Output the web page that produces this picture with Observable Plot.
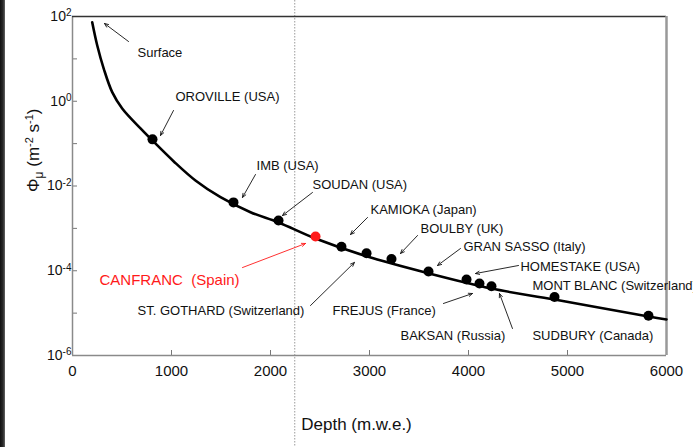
<!DOCTYPE html>
<html>
<head>
<meta charset="utf-8">
<script src="https://cdn.jsdelivr.net/npm/d3@7"></script>
<script src="https://cdn.jsdelivr.net/npm/@observablehq/plot@0.6"></script>
<style>
  html, body { margin: 0; padding: 0; background: #fff; overflow: hidden; }
  #wrap { position: relative; width: 693px; height: 447px; }
  #edge { position: absolute; left: 0; top: 0; width: 5px; height: 447px;
          background: linear-gradient(to right, #111 0%, #2a2a2a 60%, #666 100%); }
  svg { font-family: "Liberation Sans", Arial, sans-serif; }
</style>
</head>
<body>
<div id="wrap"><div id="edge"></div></div>
<script>
// Muon flux curve vs depth
const curveDepth = [199, 250, 316, 401, 502, 687, 821, 1023, 1242, 1495, 1798, 2081, 2455, 2970, 3596, 4232, 4869, 5818, 6000];
const curveFlux  = [73.3, 20.7, 5.83, 1.64, 0.676, 0.229, 0.11, 0.038, 0.0135, 0.00545, 0.00241, 0.00138, 5.75e-4, 2.19e-4, 8.7e-5, 3.8e-5, 2.09e-5, 8.3e-6, 7.1e-6];

// Underground laboratories
const siteName  = ["OROVILLE", "IMB", "SOUDAN", "CANFRANC", "KAMIOKA", "ST. GOTHARD", "BOULBY", "GRAN SASSO", "HOMESTAKE", "FREJUS", "BAKSAN", "MONT BLANC", "SUDBURY"];
const siteDepth = [808, 1626, 2081, 2455, 2717, 2970, 3222, 3596, 3980, 4111, 4232, 4869, 5818];
const siteFlux  = [0.126, 0.0041, 0.00154, 6.4e-4, 3.7e-4, 2.6e-4, 1.9e-4, 9.6e-5, 6.2e-5, 5.0e-5, 4.3e-5, 2.4e-5, 8.7e-6];
const highlight = "CANFRANC";

// Annotation labels (anchor in data units)
const labelText  = ["Surface", "OROVILLE (USA)", "IMB (USA)", "SOUDAN (USA)", "KAMIOKA (Japan)", "BOULBY (UK)", "GRAN SASSO (Italy)", "HOMESTAKE (USA)", "MONT BLANC (Switzerland)", "CANFRANC  (Spain)", "ST. GOTHARD (Switzerland)", "FREJUS (France)", "BAKSAN (Russia)", "SUDBURY (Canada)"];
const labelDepth = [657, 1040, 1859, 2424, 3010, 3515, 3949, 4525, 4646, 273, 657, 2626, 3313, 4646];
const labelFlux  = [14.1, 1.29, 0.0305, 0.0108, 0.00279, 9.9e-4, 3.73e-4, 1.26e-4, 4.49e-5, 5.89e-5, 1.15e-5, 1.15e-5, 2.96e-6, 2.96e-6];

// Annotation arrows (data units)
const arrowLabel     = ["Surface", "OROVILLE", "IMB", "SOUDAN", "KAMIOKA", "BOULBY", "GRAN SASSO", "HOMESTAKE", "CANFRANC", "ST. GOTHARD", "FREJUS", "BAKSAN"];
const arrowFromDepth = [566, 1020, 1848, 2424, 2980, 3485, 3919, 4505, 1717, 2404, 3747, 4444];
const arrowFromFlux  = [25.7, 0.605, 0.01866, 0.00703, 0.00181, 6.79e-4, 3.35e-4, 1.33e-4, 1.19e-4, 1.51e-5, 1.69e-5, 4.34e-6];
const arrowToDepth   = [323, 889, 1717, 2121, 2808, 3313, 3687, 4071, 2354, 2848, 4040, 4313];
const arrowToFlux    = [68.4, 0.1556, 0.00536, 0.00201, 7.16e-4, 2.55e-4, 1.33e-4, 8.6e-5, 4.4e-4, 1.57e-4, 2.9e-5, 2.9e-5];

const refDepth = [2245];
const xTicks = [0, 1000, 2000, 3000, 4000, 5000, 6000];
const yTicks = [1e2, 1e1, 1e0, 1e-1, 1e-2, 1e-3, 1e-4, 1e-5, 1e-6];

const curve  = curveDepth.map((d, i) => ({depth: d, flux: curveFlux[i]}));
const sites  = siteName.map((n, i) => ({name: n, depth: siteDepth[i], flux: siteFlux[i]}));
const labels = labelText.map((t, i) => ({text: t, depth: labelDepth[i], flux: labelFlux[i]}));
const arrows = arrowLabel.map((n, i) => ({name: n, x1: arrowFromDepth[i], y1: arrowFromFlux[i], x2: arrowToDepth[i], y2: arrowToFlux[i]}));

const red = "#ff1a1a";

const chart = Plot.plot({
  width: 693,
  height: 447,
  marginLeft: 72,
  marginRight: 27,
  marginTop: 16,
  marginBottom: 92,
  style: {fontFamily: "Liberation Sans, Arial, sans-serif", background: "transparent", overflow: "hidden"},
  x: {domain: [0, 6000]},
  y: {type: "log", domain: [1e-6, 1e2]},
  marks: [
    Plot.ruleX(refDepth, {stroke: "#9a9a9a", strokeWidth: 1, strokeDasharray: "1.5,1.5", insetTop: -16, insetBottom: -92}),
    Plot.axisX({ticks: xTicks, tickSize: -5, tickPadding: 15, tickFormat: d => String(d), fontSize: 15, stroke: "#777", color: "#111", label: null}),
    Plot.axisY({ticks: yTicks, tickSize: -5, tickPadding: 6, fontSize: 14, stroke: "#777", color: "#111", label: null,
      tickFormat: d => { const e = Math.round(Math.log10(d)); return (e % 2 === 0) ? "10^" + e : ""; }}),
    Plot.ruleX([0], {stroke: "#8a8a8a", strokeWidth: 1.5}),
    Plot.ruleY([1e-6], {stroke: "#8a8a8a", strokeWidth: 1.5}),
    Plot.ruleY([1e2], {stroke: "#333", strokeWidth: 1.5}),
    Plot.ruleX([6000], {stroke: "#999", strokeWidth: 2.5}),
    Plot.line(curve, {x: "depth", y: "flux", curve: "catmull-rom", stroke: "#000", strokeWidth: 2.6}),
    Plot.dot(sites, {x: "depth", y: "flux", r: 5, fill: d => d.name === highlight ? red : "#000", stroke: "none"}),
    Plot.arrow(arrows, {x1: "x1", y1: "y1", x2: "x2", y2: "y2", stroke: d => d.name === highlight ? red : "#111", strokeWidth: 0.9, headLength: 7, headAngle: 45}),
    Plot.text(labels, {x: "depth", y: "flux", text: "text", textAnchor: "start",
      fontSize: d => d.text.startsWith("CANFRANC") ? 15 : 13,
      fill: d => d.text.startsWith("CANFRANC") ? red : "#111"}),
    Plot.text(["Depth (m.w.e.)"], {frameAnchor: "bottom", text: d => d, dx: -13, dy: 74, fontSize: 17, fill: "#111"}),
    Plot.text(["PHI_TITLE"], {frameAnchor: "left", text: d => d, dx: -39, dy: 6, rotate: -90, fontSize: 17, fill: "#111"})
  ]
});

// superscripts on y tick labels
d3.select(chart).selectAll('g[aria-label="y-axis tick label"] text').each(function() {
  const t = d3.select(this);
  const s = t.text();
  if (!s.includes("^")) return;
  const [base, exp] = s.split("^");
  t.text(base);
  t.append("tspan").attr("dy", "-0.45em").attr("font-size", 10).text(exp);
});

// y axis title with sub/superscripts
d3.select(chart).selectAll("text").filter(function() { return this.textContent === "PHI_TITLE"; }).each(function() {
  const t = d3.select(this);
  t.text("Φ");
  t.append("tspan").attr("dy", 4).attr("font-size", 12).text("μ");
  t.append("tspan").attr("dy", -4).text(" (m");
  t.append("tspan").attr("dy", -6).attr("font-size", 11).text("-2");
  t.append("tspan").attr("dy", 6).text(" s");
  t.append("tspan").attr("dy", -6).attr("font-size", 11).text("-1");
  t.append("tspan").attr("dy", 6).text(")");
});

chart.style.position = "absolute";
chart.style.left = "0px";
chart.style.top = "0px";
document.getElementById("wrap").appendChild(chart);
</script>
</body>
</html>
